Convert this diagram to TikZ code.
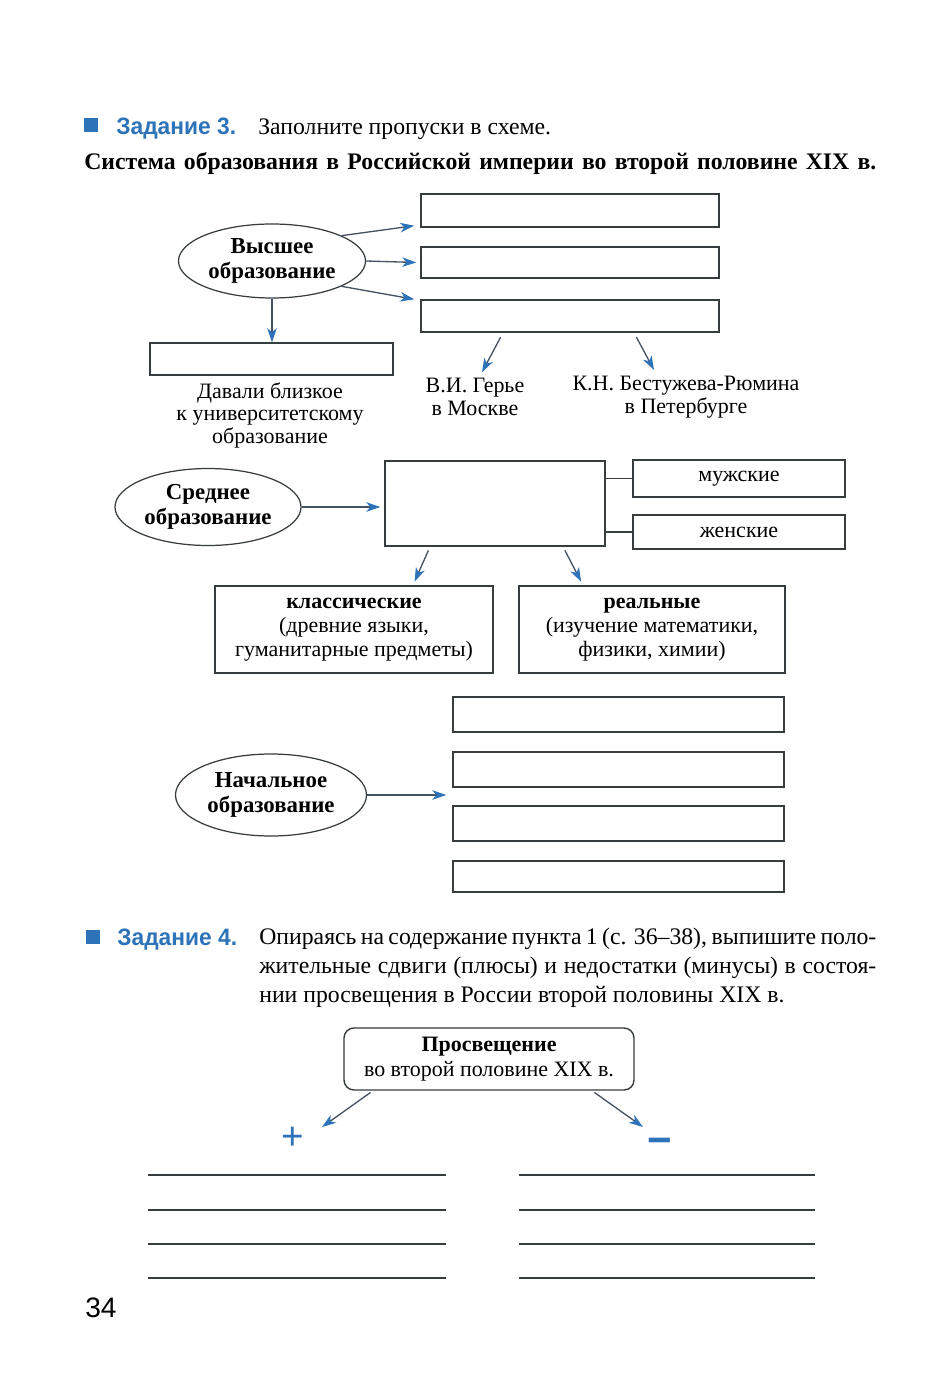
\documentclass[tikz,border=0pt]{standalone}
\usepackage{fontspec}
\setmainfont{Liberation Serif}
\setsansfont{Liberation Sans}
\newfontfamily\taskfont[FakeStretch=0.96]{Liberation Sans}
\usetikzlibrary{arrows.meta,shapes.geometric}
\definecolor{taskblue}{RGB}{45,115,185}
\definecolor{linegray}{RGB}{55,60,62}
\definecolor{arrowgray}{RGB}{70,82,95}
\newcommand{\bodyfont}{\fontsize{13.5}{16.5}\selectfont}

\begin{document}
\begin{tikzpicture}[x=0.2mm, y=-0.2mm,
    every node/.style={font=\fontsize{12.5}{12.8}\selectfont},
    oval/.style={draw=linegray, line width=0.7pt, ellipse, align=center,
      inner sep=0pt, font=\fontsize{13}{14.5}\selectfont\bfseries},
    blank/.style={draw=linegray, line width=0.8pt, inner sep=0pt},
    filled/.style={draw=linegray, line width=0.8pt, align=center,
      font=\fontsize{12.5}{13.6}\selectfont},
    arr/.style={draw=arrowgray, line width=0.75pt,
      -{Stealth[length=2.8mm, width=1.9mm, inset=0.8mm, color=taskblue]}},
    wline/.style={draw=linegray, line width=0.7pt},
    task/.style={anchor=base west, inner sep=0pt, text=taskblue,
      font=\taskfont\bfseries\fontsize{13.5}{16.5}\selectfont},
    body/.style={anchor=base west, inner sep=0pt, font=\bodyfont}]
  \fill[white] (0,0) rectangle (935,1379);
  \useasboundingbox (0,0) rectangle (935,1379);

  % task 3
  \fill[taskblue] (84,118) rectangle (98,132);
  \node[task] (z3) at (116,135) {Задание 3.};
  \node[body] (z3text) at (258,135) {Заполните пропуски в схеме.};
  \node[body, font=\bodyfont\bfseries] (title) at (84,170)
    {\makebox[158.4mm][s]{Система образования в Российской империи во второй половине XIX в.}};

  % higher education
  \node[oval, minimum width=37.4mm, minimum height=14.8mm] (hi) at (272,261)
    {Высшее\\образование};
  \node[blank, minimum width=59.6mm, minimum height=6.6mm] (hb1) at (570,210.5) {};
  \node[blank, minimum width=59.6mm, minimum height=6.2mm] (hb2) at (570,262.5) {};
  \node[blank, minimum width=59.6mm, minimum height=6.4mm] (hb3) at (570,316) {};
  \node[blank, minimum width=48.6mm, minimum height=6.4mm] (hb4) at (271.5,359) {};
  \node[align=center] (close) at (270,415)
    {Давали близкое\\к университетскому\\образование};
  \node[align=center] (gerie) at (475,397) {В.И. Герье\\в Москве};
  \node[align=center] (bestuzh) at (686,397) {К.Н. Бестужева-Рюмина\\в Петербурге};
  \draw[arr] (hi.20) -- ([shift={(-1.2mm,0.4mm)}]hb1.south west);
  \draw[arr] (hi.east) -- ([xshift=-0.8mm]hb2.west);
  \draw[arr] (hi.-20) -- ([xshift=-1.2mm]hb3.north west);
  \draw[arr] (hi.south) -- (hi.south |- hb4.north);
  \draw[arr, shorten <=1mm] ([xshift=-13.4mm]hb3.south) -- ([xshift=1.4mm]gerie.north);
  \draw[arr, shorten <=1mm] ([xshift=12.8mm]hb3.south) -- ([xshift=-6.4mm]bestuzh.north);

  % secondary education
  \node[oval, minimum width=37.2mm, minimum height=15.4mm] (so) at (208,507)
    {Среднее\\образование};
  \node[blank, minimum width=44mm, minimum height=17mm] (sbig) at (495,503.5) {};
  \node[filled, minimum width=42.4mm, minimum height=7.4mm] (male) at (739,478.5) {мужские};
  \node[filled, minimum width=42.4mm, minimum height=6.8mm] (female) at (739,532) {женские};
  \node[filled, minimum width=55.6mm, minimum height=17.4mm] (klass) at (354,629.5)
    {\textbf{классические}\\(древние языки,\\гуманитарные предметы)};
  \node[filled, minimum width=53.2mm, minimum height=17.4mm] (real) at (652,629.5)
    {\textbf{реальные}\\(изучение математики,\\физики, химии)};
  \draw[arr, shorten >=0.8mm] (so.east) -- (sbig.west |- so.east);
  \draw[wline] (sbig.east |- male) -- (male.west);
  \draw[wline] (sbig.east |- female) -- (female.west);
  \draw[arr, shorten <=0.8mm, shorten >=0.8mm] ([xshift=-13mm]sbig.south) -- ([xshift=11.8mm]klass.north);
  \draw[arr, shorten <=0.8mm, shorten >=0.8mm] ([xshift=13.6mm]sbig.south) -- ([xshift=-13.8mm]real.north);

  % primary education
  \node[oval, minimum width=38.2mm, minimum height=16.4mm] (po) at (271,795)
    {Начальное\\образование};
  \foreach \y/\h [count=\i] in {714.5/7mm, 769.5/7mm, 823.5/7mm, 876.5/6.2mm}
    \node[blank, minimum width=66.2mm, minimum height=\h] (pb\i) at (618.5,\y) {};
  \draw[arr] (po.east) -- ([xshift=-1.2mm]pb1.west |- po.east);

  % task 4
  \fill[taskblue] (86,930) rectangle (100,944);
  \node[task] (z4) at (117,945) {Задание 4.};
  \node[body, anchor=north west, align=left] (z4text) at (259,928)
    {\makebox[123.4mm][s]{Опираясь на содержание пункта 1 (с. 36–38), выпишите поло-}\\
     \makebox[123.4mm][s]{жительные сдвиги (плюсы) и недостатки (минусы) в состоя-}\\
     нии просвещения в России второй половины XIX в.};
  \node[draw=linegray, line width=0.8pt, rounded corners=2mm, align=center,
    minimum width=58mm, minimum height=12.4mm, font=\fontsize{12.5}{14.5}\selectfont]
    (prosv) at (489,1059) {\textbf{Просвещение}\\во второй половине XIX в.};
  \node[text=taskblue, font=\sffamily\fontsize{22}{22}\selectfont] (plus) at (293,1138) {+};
  \node[text=taskblue, font=\sffamily\bfseries\fontsize{24}{24}\selectfont] (minus) at (660,1146) {−};
  \draw[arr, shorten <=0.6mm] ([xshift=-23.2mm]prosv.south) -- ([shift={(5.8mm,2.2mm)}]plus.center);
  \draw[arr, shorten <=0.6mm] ([xshift=20.6mm]prosv.south) -- ([shift={(-3.4mm,3.8mm)}]minus.center);
  \foreach \y in {1175,1210,1244,1278} {
    \draw[wline] (148,\y) -- (446,\y);
    \draw[wline] (519,\y) -- (815,\y);
  }
  \node[anchor=base west, inner sep=0pt, font=\sffamily\fontsize{16}{16}\selectfont] (page) at (85,1317) {34};
\end{tikzpicture}
\end{document}
